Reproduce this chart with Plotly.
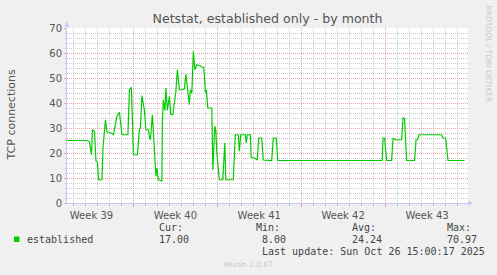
import plotly.graph_objects as go

# ---- data ----
times = [
    "2025-09-23 11:00", "2025-09-25 04:00", "2025-09-25 08:00", "2025-09-25 12:00",
    "2025-09-25 14:00", "2025-09-25 18:00", "2025-09-25 21:00", "2025-09-26 00:00",
    "2025-09-26 02:00", "2025-09-26 09:00", "2025-09-26 11:00", "2025-09-26 16:00",
    "2025-09-26 19:00", "2025-09-27 03:00", "2025-09-27 08:00", "2025-09-27 15:00",
    "2025-09-27 20:00", "2025-09-27 23:00", "2025-09-28 01:00", "2025-09-28 13:00",
    "2025-09-28 16:00", "2025-09-28 20:00", "2025-09-29 00:00", "2025-09-29 08:00",
    "2025-09-29 12:00", "2025-09-29 14:00", "2025-09-29 17:00", "2025-09-29 20:00",
    "2025-09-29 22:00", "2025-09-30 01:00", "2025-09-30 06:00", "2025-09-30 08:00",
    "2025-09-30 10:00", "2025-09-30 14:00", "2025-09-30 17:00", "2025-09-30 19:00",
    "2025-09-30 21:00", "2025-09-30 23:00", "2025-10-01 02:00", "2025-10-01 09:00",
    "2025-10-01 10:00", "2025-10-01 12:00", "2025-10-01 15:00", "2025-10-01 17:00",
    "2025-10-01 20:00", "2025-10-02 00:00", "2025-10-02 03:00", "2025-10-02 07:00",
    "2025-10-02 10:00", "2025-10-02 13:00", "2025-10-02 16:00", "2025-10-02 20:00",
    "2025-10-03 02:00", "2025-10-03 06:00", "2025-10-03 09:00", "2025-10-03 14:00",
    "2025-10-03 16:00", "2025-10-03 18:00", "2025-10-03 21:00", "2025-10-04 00:00",
    "2025-10-04 03:00", "2025-10-04 07:00", "2025-10-04 12:00", "2025-10-04 18:00",
    "2025-10-04 21:00", "2025-10-05 00:00", "2025-10-05 02:00", "2025-10-05 05:00",
    "2025-10-05 13:00", "2025-10-05 15:00", "2025-10-05 19:00", "2025-10-05 21:00",
    "2025-10-05 23:00", "2025-10-06 04:00", "2025-10-06 11:00", "2025-10-06 15:00",
    "2025-10-06 17:00", "2025-10-07 08:00", "2025-10-07 12:00", "2025-10-07 18:00",
    "2025-10-07 20:00", "2025-10-07 23:00", "2025-10-08 08:00", "2025-10-08 10:00",
    "2025-10-08 12:00", "2025-10-08 18:00", "2025-10-08 20:00", "2025-10-09 04:00",
    "2025-10-09 08:00", "2025-10-09 11:00", "2025-10-09 17:00", "2025-10-09 20:00",
    "2025-10-10 04:00", "2025-10-10 13:00", "2025-10-10 16:00", "2025-10-10 22:00",
    "2025-10-11 01:00", "2025-10-16 06:00", "2025-10-16 07:00", "2025-10-16 09:00",
    "2025-10-17 06:00", "2025-10-17 07:00", "2025-10-17 08:00", "2025-10-17 14:00",
    "2025-10-17 15:00", "2025-10-17 16:00", "2025-10-19 18:00", "2025-10-19 20:00",
    "2025-10-19 23:00", "2025-10-20 03:00", "2025-10-20 13:00", "2025-10-20 16:00",
    "2025-10-20 21:00", "2025-10-21 09:00", "2025-10-21 12:00", "2025-10-21 15:00",
    "2025-10-21 19:00", "2025-10-22 11:00", "2025-10-22 14:00", "2025-10-22 17:00",
    "2025-10-22 20:00", "2025-10-24 17:00", "2025-10-24 20:00", "2025-10-25 01:00",
    "2025-10-25 06:00", "2025-10-26 15:00",
]
established = [
    25, 25, 24.5, 19.3,
    29.3, 28.7, 16.7, 16.3,
    9.3, 9.3, 22, 33.3,
    28.5, 28, 27.3, 34.7,
    36.3, 31.8, 27.3, 27.3,
    45.3, 46.3, 19.3, 19.3,
    29.3, 30, 43, 39.3,
    37.3, 29.3, 29.3, 26.5,
    25.3, 35.3, 25.3, 14.7,
    10.7, 14, 9.3, 8.8,
    33, 41.3, 37, 46,
    37, 42.7, 35.3, 35.3,
    40.7, 44.7, 53.3, 45.3,
    45.3, 45.7, 51.5, 43.3,
    39.3, 45.3, 44, 60.7,
    53.3, 55.3, 55, 54.3,
    54.3, 44.3, 45.3, 38,
    38, 13.3, 30.7, 29.3,
    20, 9.3, 9.3, 24,
    9.3, 9.3, 27.3, 27.3,
    20.7, 27.3, 27.3, 24,
    27.3, 27.3, 18.3, 17.8,
    17.2, 26, 26, 17.2,
    17, 17, 26, 26,
    17, 17, 16.7, 17,
    17, 16.7, 17, 17,
    16.7, 17, 17, 26,
    26, 17, 17, 26,
    25.3, 25.3, 34, 33.7,
    17, 17, 25.3, 25.3,
    27.3, 27.3, 26, 26,
    17, 17,
]
x_range = ["2025-09-23 11:00", "2025-10-26 22:00"]
y_range = [0, 70]
title_text = "Netstat, established only - by month"
y_title = "TCP connections"
series_name = "established"
stat_labels = ["Cur:", "Min:", "Avg:", "Max:"]
stat_values = ["17.00", "8.00", "24.24", "70.97"]
last_update = "Last update: Sun Oct 26 15:00:17 2025"
footer = "Munin 2.0.67"
side_text = "RRDTOOL / TOBI OETIKER"

# ---- layout geometry (pixels) ----
W, H = 497, 275
L, R, T, B = 67, 29, 28, 72
PW, PH = W - L - R, H - T - B
BOTTOM = H - B


def px(x):
    return (x - L) / PW


def py(y):
    return (BOTTOM - y) / PH


GREEN = "#00CC00"
TXT = "#555555"
MONO = "DejaVu Sans Mono"
SANS = "DejaVu Sans"
MAJOR = "rgba(230,130,130,0.75)"
MINOR = "rgba(190,190,190,0.8)"
AXIS = "#C8C8F8"
DAY = 86400000

fig = go.Figure()
fig.add_trace(go.Scatter(
    x=times, y=established, mode="lines", name=series_name,
    line=dict(color=GREEN, width=1.2), showlegend=False, hoverinfo="skip",
))

fig.update_layout(
    width=W, height=H,
    margin=dict(l=L, r=R, t=T, b=B, pad=0),
    paper_bgcolor="#F0F0F0", plot_bgcolor="#FFFFFF",
    font=dict(family=SANS, size=10, color=TXT),
    title=dict(text=title_text, x=0.5, xref="paper", xanchor="center",
               y=1 - 19 / H, yref="container", yanchor="middle",
               font=dict(family=SANS, size=12.6, color=TXT)),
    showlegend=False,
)

fig.update_xaxes(
    type="date", range=x_range,
    tick0="2025-09-22", dtick=7 * DAY,
    ticklabelmode="period", tickformat="Week %V",
    showgrid=True, gridcolor=MAJOR, griddash="1px,1px", gridwidth=1,
    ticks="outside", ticklen=3, tickcolor=MAJOR,
    showline=True, linecolor=AXIS, linewidth=1,
    tickfont=dict(family=SANS, size=10, color=TXT),
    minor=dict(dtick=DAY, tick0="2025-09-22", showgrid=True, gridcolor=MINOR,
               griddash="1px,1px", ticks="outside", ticklen=2, tickcolor="#bbbbbb"),
    zeroline=False,
)
fig.update_yaxes(
    range=y_range, dtick=10, tick0=0,
    showgrid=True, gridcolor=MAJOR, griddash="1px,1px", gridwidth=1,
    ticks="outside", ticklen=2, tickcolor="#bbbbbb",
    showline=True, linecolor=AXIS, linewidth=1,
    tickfont=dict(family=SANS, size=10, color=TXT),
    minor=dict(dtick=2, showgrid=True, gridcolor=MINOR, griddash="1px,1px",
               ticks="outside", ticklen=1, tickcolor="#cccccc"),
    zeroline=False,
)

# axis arrowheads
fig.add_shape(type="path", xref="paper", yref="paper",
              path=f"M {px(64.2)},{py(27)} L {px(69.2)},{py(27)} L {px(66.7)},{py(21.5)} Z",
              fillcolor=AXIS, line=dict(width=0))
fig.add_shape(type="path", xref="paper", yref="paper",
              path=f"M {px(468)},{py(200.8)} L {px(468)},{py(205.8)} L {px(473.3)},{py(203.3)} Z",
              fillcolor=AXIS, line=dict(width=0))

# legend square
fig.add_shape(type="rect", xref="paper", yref="paper",
              x0=px(14), x1=px(19.5), y0=py(242), y1=py(236.5),
              fillcolor=GREEN, line=dict(width=0))

ann = []


def text(x, y, s, size=10, family=MONO, color="#444444", xanchor="left", angle=0):
    ann.append(dict(x=px(x), y=py(y), xref="paper", yref="paper", text=s,
                    showarrow=False, xanchor=xanchor, yanchor="middle",
                    textangle=angle, borderpad=0,
                    font=dict(family=family, size=size, color=color)))


text(11, 115.5, y_title, size=11, family=SANS, color=TXT, xanchor="center", angle=-90)
text(488, 53.5, side_text, size=7.5, family=SANS, color="#C8C8C8", xanchor="center", angle=90)
text(25.5, 239.3, series_name)
label_x = [157.5, 254.5, 350.5, 446]
value_x = [157.5, 260.5, 350.5, 446]
for lx, vx, lab, val in zip(label_x, value_x, stat_labels, stat_values):
    text(lx, 227.7, lab)
    text(vx, 239.3, val)
text(261, 251, last_update)
text(248, 264, footer, size=7.5, family=SANS, color="#C8C8C8", xanchor="center")

fig.update_layout(annotations=ann)
fig.write_html("out.html")
